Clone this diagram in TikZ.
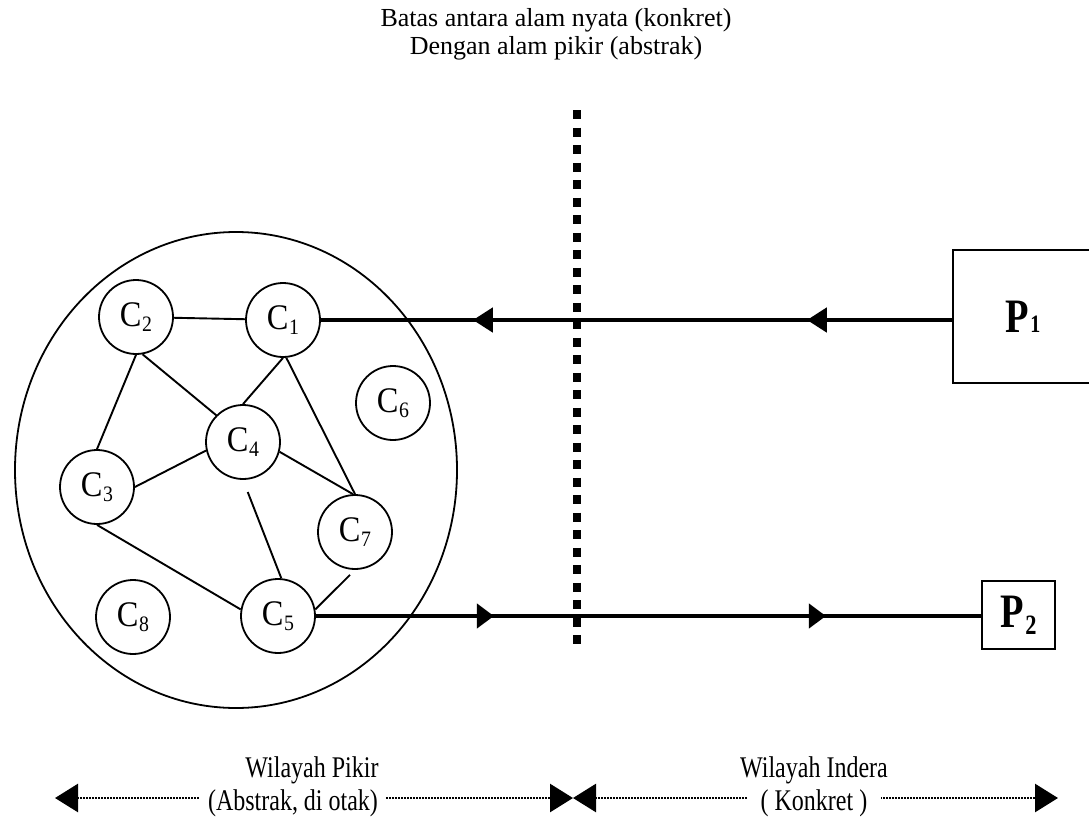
\documentclass[tikz,border=0pt]{standalone}
\usepackage{fontspec}
\setmainfont{Liberation Serif}
\newfontfamily\narrowserif[FakeStretch=0.8]{Liberation Serif}
\newfontfamily\labelserif[FakeStretch=0.9]{Liberation Serif}
\usetikzlibrary{arrows.meta,decorations.markings}

% concept label: letter with a lowered index
\newcommand{\conc}[1]{C\kern0.5pt\raisebox{-5pt}{\fontsize{22}{22}\selectfont #1}}
% object label: bold letter with an index
\newcommand{\prob}[3]{\textbf{P}\kern1.5pt\raisebox{#3}{\fontsize{#2}{#2}\selectfont\bfseries #1}}

\begin{document}
\begin{tikzpicture}[x=1pt,y=-1pt,
  concept/.style={circle,draw,line width=1.8pt,minimum size=74pt,inner sep=0pt,
    font=\labelserif\fontsize{36}{36}\selectfont},
  link/.style={line width=1.9pt},
  flow/.style={line width=4.8pt},
  headL/.style={decoration={markings,
      mark=at position #1 with {\arrowreversed{Triangle[length=20pt,width=24pt]}}},
    postaction={decorate}},
  headR/.style={decoration={markings,
      mark=at position #1 with {\arrow{Triangle[length=17pt,width=24pt]}}},
    postaction={decorate}},
  objbox/.style={draw,line width=2.2pt,inner sep=0pt,
    font=\narrowserif\fontsize{48}{48}\selectfont},
  region/.style={line width=2.6pt,dash pattern=on 1.6pt off 1.4pt,
    {Triangle[length=23pt,width=28pt]}-{Triangle[length=23pt,width=28pt]}},
  caption/.style={font=\narrowserif\fontsize{30}{30}\selectfont,align=center},
  headline/.style={font=\fontsize{26}{26}\selectfont,inner sep=0pt,anchor=base},
  regiontext/.style={font=\narrowserif\fontsize{30}{30}\selectfont,fill=white,
    inner xsep=8pt,inner ysep=4pt}
]
\useasboundingbox (0,0) rectangle (1089,827);
\clip (0,0) rectangle (1089,827);

% title over the boundary
\node[headline] (title1) at (556,27) {Batas antara alam nyata (konkret)};
\node[headline] (title2) at (556,54) {Dengan alam pikir (abstrak)};

% mind: the big ellipse holding the concepts
\draw[line width=1.8pt] (236,470) ellipse [x radius=221, y radius=238];

\node[concept] (C2) at (136,317) {\conc{2}};
\node[concept] (C1) at (283,320) {\conc{1}};
\node[concept] (C6) at (393,403) {\conc{6}};
\node[concept] (C4) at (243,442) {\conc{4}};
\node[concept] (C3) at (97,487) {\conc{3}};
\node[concept] (C7) at (355,532) {\conc{7}};
\node[concept] (C8) at (133,617) {\conc{8}};
\node[concept] (C5) at (278,616) {\conc{5}};

\draw[link] (C2) -- (C1);
\draw[link] (C2.south) -- (C3.north);
\draw[link] (C2.-80) -- (C4.135);
\draw[link] (C1.south) -- (C4.north);
\draw[link] (C1.-85) -- (C7.north);
\draw[link] (C4.193) -- (C3.east);
\draw[link] (C4.-15) -- (C7.93);
\draw[link, shorten <=13pt] (C4.south) -- (C5.85);
\draw[link] (C3.south) -- (C5.170);
\draw[link, shorten <=7pt] (C7.south) -- (C5.10);

% concrete objects
\node[objbox, minimum width=140pt, minimum height=133pt] (P1) at (1023,316.5) {\prob{1}{25}{0pt}};
\node[objbox, minimum width=73pt, minimum height=68pt] (P2) at (1018.5,615) {\prob{2}{28}{-7pt}};

% boundary between the concrete and the abstract world
\coordinate (btop) at (577,110);
\coordinate (bbot) at (577,651);
\draw[line width=7.5pt, dash pattern=on 9pt off 8.5pt] (btop) -- (bbot);

% flows between objects and concepts
\draw[flow, headL=152pt] (C1.east) -- (C1.east -| P1.west);
\draw[flow, headL=486pt] (C1.east) -- (C1.east -| P1.west);
\draw[flow, headR=178pt] (C5.east) -- (C5.east -| P2.west);
\draw[flow, headR=510pt] (C5.east) -- (C5.east -| P2.west);

% regions along the bottom
\coordinate (lend) at (55,798);
\coordinate (mid) at (573,798);
\coordinate (rend) at (1058,798);
\draw[region] (lend) -- (mid);
\draw[region] (mid) -- (rend);

\node[caption,anchor=base] (pikir) at (312,777) {Wilayah Pikir};
\node[regiontext,anchor=base] (abstrak) at (293,810) {(Abstrak, di otak)};
\node[caption,anchor=base] (indera) at (814,777) {Wilayah Indera};
\node[regiontext,anchor=base,inner xsep=14pt] (konkret) at (814,810) {( Konkret )};
\end{tikzpicture}
\end{document}
